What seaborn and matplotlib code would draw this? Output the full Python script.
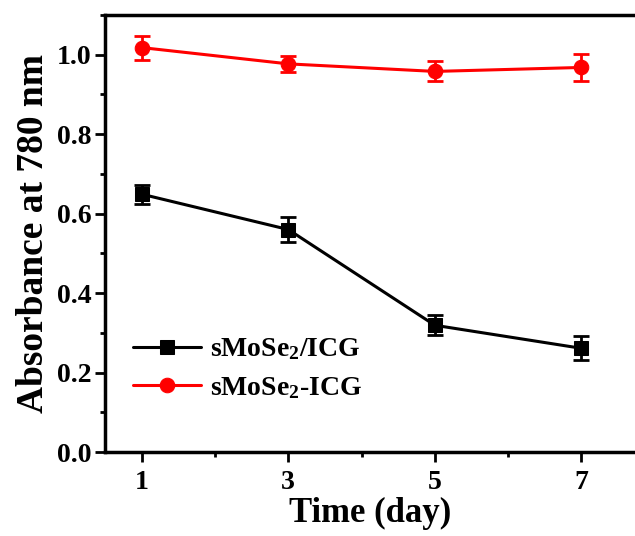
import matplotlib
matplotlib.use("Agg")
import matplotlib.pyplot as plt
import seaborn as sns
import pandas as pd
from matplotlib.ticker import MultipleLocator

days = [1, 3, 5, 7]
mix_vals = [0.649, 0.560, 0.319, 0.261]
mix_err = [0.024, 0.031, 0.025, 0.03]
conj_vals = [1.018, 0.977, 0.958, 0.968]
conj_err = [0.03, 0.02, 0.025, 0.033]
labels = ["sMoSe$_2$/ICG", "sMoSe$_2$-ICG"]
colors = ["black", "red"]
markers = ["s", "o"]

sns.set_style("ticks")
plt.rcParams["font.family"] = ["Liberation Serif", "DejaVu Serif"]
plt.rcParams["font.weight"] = "bold"
plt.rcParams["text.color"] = "black"
plt.rcParams["axes.labelcolor"] = "black"
plt.rcParams["xtick.color"] = "black"
plt.rcParams["ytick.color"] = "black"
plt.rcParams["axes.edgecolor"] = "black"
plt.rcParams["mathtext.fontset"] = "custom"
plt.rcParams["mathtext.rm"] = "Liberation Serif:bold"
plt.rcParams["mathtext.it"] = "Liberation Serif:bold"
plt.rcParams["mathtext.bf"] = "Liberation Serif:bold"

df = pd.DataFrame({
    "day": days * 2,
    "value": mix_vals + conj_vals,
    "err": mix_err + conj_err,
    "series": [labels[0]] * 4 + [labels[1]] * 4,
})

fig = plt.figure(figsize=(6.35, 5.36), dpi=100)
ax = fig.add_axes([0.1654, 0.1567, 0.8346, 0.8153])

for lab, col, mk in zip(labels, colors, markers):
    sub = df[df["series"] == lab]
    ax.errorbar(sub["day"], sub["value"], yerr=sub["err"], fmt="none",
                ecolor=col, elinewidth=2, capsize=5.5, capthick=2, zorder=2)
    sns.lineplot(data=sub, x="day", y="value", color=col, marker=mk,
                 markersize=10.5, markeredgecolor=col,
                 linewidth=2.2, ax=ax, label=lab, zorder=3)

ax.set_xlim(0.5, 7.73)
ax.set_ylim(0, 1.1)
ax.set_xticks(days)
ax.xaxis.set_minor_locator(MultipleLocator(1))
ax.yaxis.set_minor_locator(MultipleLocator(0.1))
ax.set_yticks([0.0, 0.2, 0.4, 0.6, 0.8, 1.0])
ax.set_yticklabels(["0.0", "0.2", "0.4", "0.6", "0.8", "1.0"])
ax.tick_params(which="major", direction="out", length=7, width=2, labelsize=20)
ax.tick_params(axis="x", which="major", pad=6)
ax.tick_params(axis="y", which="major", pad=3)
ax.tick_params(which="minor", direction="out", length=3.6, width=2)
for s in ["left", "bottom", "top"]:
    ax.spines[s].set_linewidth(2.5)
    ax.spines[s].set_visible(True)
ax.spines["right"].set_visible(False)

ax.set_xlabel("Time (day)", fontsize=25, fontweight="bold", labelpad=1)
ax.set_ylabel("Absorbance at 780 nm", fontsize=27, fontweight="bold", labelpad=4)

leg = ax.legend(loc="lower left", bbox_to_anchor=(0.006, 0.06), frameon=False,
                fontsize=20, handlelength=2.45, handletextpad=0.3, labelspacing=0.45)

fig.savefig("out.png", dpi=100)
